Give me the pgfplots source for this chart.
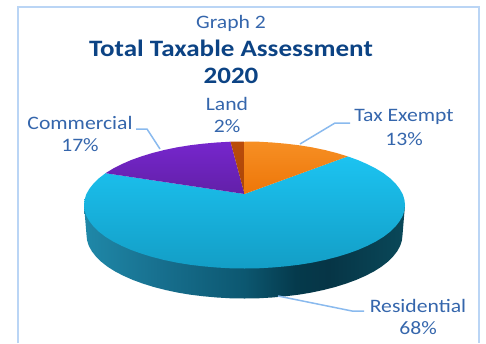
\documentclass[border=0pt]{standalone}
\usepackage{pgfplots}
\usepackage{graphicx}
\usepackage{fontspec}
\pgfplotsset{compat=1.18}
\setmainfont{Carlito}
\definecolor{framecol}{HTML}{BAD5F5}
\definecolor{leader}{HTML}{8ABAEE}
\definecolor{labelcol}{HTML}{3566AC}
\definecolor{titlecol}{HTML}{0C4384}
\definecolor{wallA}{HTML}{1F88A8}
\definecolor{wallB}{HTML}{176F8E}
\definecolor{wallC}{HTML}{0C5770}
\definecolor{wallD}{HTML}{053A4C}
\definecolor{wallE}{HTML}{063546}
\definecolor{wallF}{HTML}{0A4859}
% Side wall of the pie, lit from the left and darkest just right of the centre
\pgfdeclarehorizontalshading{sidewall}{100bp}{
  color(0bp)=(wallA);
  color(25bp)=(wallA);
  color(37bp)=(wallB);
  color(50bp)=(wallC);
  color(58bp)=(wallD);
  color(63bp)=(wallE);
  color(75bp)=(wallF);
  color(100bp)=(wallF)}
\tikzset{lab/.style={font=\fontsize{19}{21}\selectfont, text=labelcol, inner sep=0pt},
         ttl/.style={font=\fontsize{23.5}{25}\selectfont\bfseries, text=titlecol, inner sep=0pt}}
% wide setting of the label lettering
\newcommand{\wide}[1]{\scalebox{1.14}[1]{#1}}
\begin{document}
\begin{tikzpicture}
\begin{axis}[
  scale only axis, width=486pt, height=343pt,
  xmin=0, xmax=486, ymin=0, ymax=343, y dir=reverse,
  axis lines=none, clip=true,
]
% page area
\addplot[white, line width=0.1pt] coordinates {(0,0) (486,0) (486,343) (0,343) (0,0)};
% frame around the chart area
\addplot[framecol, line width=2pt] coordinates {(17.5,343) (17.5,6.5) (479,6.5) (479,343)};

% side wall: lower half of the bottom rim, closed under the top face
\addplot[draw=none, shading=sidewall] coordinates {
  (84,205) (86.5,235) (87.1,240.5) (88.9,246) (91.9,251.4) (96.1,256.7) (101.3,261.8) (107.7,266.8)
  (115,271.4) (123.5,275.8) (132.8,279.9) (142.9,283.6) (153.8,287) (165.5,290) (177.8,292.6)
  (190.5,294.7) (203.6,296.3) (217,297.5) (230.7,298.3) (244.5,298.5) (258.3,298.3) (272,297.5)
  (285.4,296.3) (298.5,294.7) (311.2,292.6) (323.5,290) (335.2,287) (346.1,283.6) (356.2,279.9)
  (365.5,275.8) (374,271.4) (381.3,266.8) (387.7,261.8) (392.9,256.7) (397.1,251.4) (400.1,246)
  (401.9,240.5) (402.5,235) (405,205) (84,205)};

% Residential 68%
\addplot[draw=none, top color={rgb,255:red,28;green,195;blue,241}, bottom color={rgb,255:red,19;green,158;blue,198}] coordinates {
  (244.5,194) (347.7,156.4) (358,160.1) (367.4,164.2) (376,168.6) (383.5,173.2) (390,178.2) (395.3,183.3)
  (399.5,188.6) (402.6,194) (404.4,199.5) (405,205) (404.4,210.5) (402.6,216) (399.5,221.4) (395.3,226.7)
  (390,231.8) (383.5,236.8) (376,241.4) (367.4,245.8) (358,249.9) (347.7,253.6) (336.6,257) (324.8,260)
  (312.3,262.6) (299.4,264.7) (286,266.3) (272.4,267.5) (258.5,268.3) (244.5,268.5) (230.5,268.3)
  (216.6,267.5) (203,266.3) (189.6,264.7) (176.7,262.6) (164.2,260) (152.4,257) (141.3,253.6) (131,249.9)
  (121.6,245.8) (113,241.4) (105.5,236.8) (99,231.8) (93.7,226.7) (89.5,221.4) (86.4,216) (84.6,210.5)
  (84,205) (84.6,199.5) (86.4,194) (89.5,188.6) (93.7,183.3) (99,178.2) (105.5,173.2) (244.5,194)};

% Tax Exempt 13%
\addplot[draw=none, top color={rgb,255:red,246;green,143;blue,36}, bottom color={rgb,255:red,238;green,118;blue,8}] coordinates {
  (244.5,194) (244.5,141.5) (258.5,141.7) (272.4,142.5) (286,143.7) (299.4,145.3) (312.3,147.4)
  (324.8,150) (336.6,153) (347.7,156.4) (244.5,194)};

% Commercial 17%
\addplot[draw=none, top color={rgb,255:red,118;green,38;blue,205}, bottom color={rgb,255:red,98;green,32;blue,168}] coordinates {
  (244.5,194) (230.5,141.7) (216.6,142.5) (203,143.7) (189.6,145.3) (176.7,147.4) (164.2,150)
  (152.4,153) (141.3,156.4) (131,160.1) (121.6,164.2) (113,168.6) (105.5,173.2) (244.5,194)};

% Land 2%
\addplot[draw=none, top color={rgb,255:red,186;green,76;blue,10}, bottom color={rgb,255:red,170;green,70;blue,8}] coordinates {
  (244.5,194) (244.5,141.5) (230.5,141.7) (244.5,194)};

% leader lines
\addplot[leader, line width=1.5pt] coordinates {(300,144) (335,123) (350,123)};
\addplot[leader, line width=1.5pt] coordinates {(136,129) (147,129) (160,149)};
\addplot[leader, line width=1.5pt] coordinates {(278,296) (352,311) (364,311)};

% titles
\node[lab] at (axis cs:231,23.5) {\wide{Graph 2}};
\node[ttl] at (axis cs:231,48) {\scalebox{1.15}[1]{Total Taxable Assessment}};
\node[ttl] at (axis cs:231,76) {\scalebox{1.15}[1]{2020}};

% category labels
\node[lab] at (axis cs:227,104) {\wide{Land}};
\node[lab] at (axis cs:227,126) {\wide{2\%}};
\node[lab] at (axis cs:404,117) {\wide{Tax Exempt}};
\node[lab] at (axis cs:404,139) {\wide{13\%}};
\node[lab] at (axis cs:80,123) {\wide{Commercial}};
\node[lab] at (axis cs:80,145) {\wide{17\%}};
\node[lab] at (axis cs:418,306) {\wide{Residential}};
\node[lab] at (axis cs:418,328) {\wide{68\%}};
\end{axis}
\end{tikzpicture}
\end{document}
